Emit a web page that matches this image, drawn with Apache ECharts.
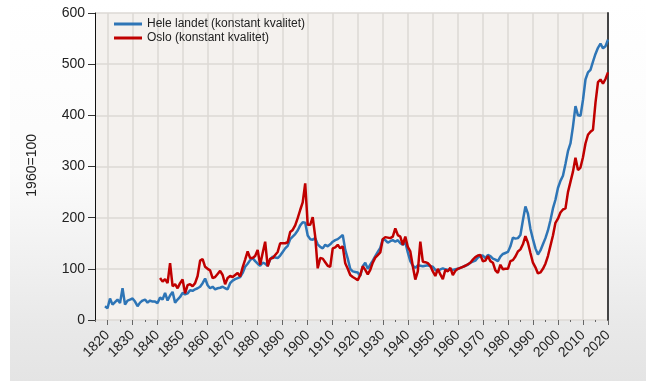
<!DOCTYPE html>
<html><head><meta charset="utf-8">
<script src="https://cdn.jsdelivr.net/npm/echarts@6/dist/echarts.min.js"></script>
<style>html,body{margin:0;padding:0;background:#fff}#c{width:646px;height:381px}</style>
</head><body><div id="c"></div>
<script>
const axisStart = 1815, axisEnd = 2020;
const yTicks = [0, 100, 200, 300, 400, 500, 600];
const seriesNames = ['Hele landet (konstant kvalitet)', 'Oslo (konstant kvalitet)'];
const heleStart = 1819;
const heleLandet = [27,
  23,42,30,35,40,33,62,30,38,40,
  42,36,27,34,38,40,34,38,36,36,
  33,44,40,53,38,48,55,34,40,45,
  53,50,52,58,57,60,62,65,72,81,
  68,62,65,60,62,63,65,62,60,72,
  77,80,82,84,92,104,110,117,121,115,
  110,106,112,110,106,118,124,122,121,126,
  133,140,145,158,163,168,175,185,191,190,
  165,158,157,160,148,143,140,147,144,148,
  153,156,158,162,166,137,120,100,95,94,
  93,86,105,112,100,108,116,125,133,141,
  158,156,151,154,156,153,156,150,147,152,
  132,115,106,102,107,106,105,106,107,105,
  104,98,95,99,101,99,98,98,98,99,
  100,102,104,106,108,112,114,116,122,125,
  126,121,127,125,120,118,115,124,129,131,
  133,144,161,159,160,166,195,222,208,178,
  158,140,128,136,148,160,175,195,218,235,
  258,272,282,305,330,345,378,418,400,399,
  430,470,484,489,505,520,532,540,531,535,
  548];
const osloStart = 1841;
const oslo = [82,75,80,72,111,66,70,62,72,
  79,52,68,70,66,72,86,116,119,104,
  100,97,82,84,90,96,88,70,82,86,
  84,88,92,85,103,118,134,121,121,125,
  137,108,131,153,105,120,121,127,133,150,
  150,150,152,172,176,185,199,215,230,267,
  186,186,201,163,101,121,120,113,106,104,
  140,142,147,140,144,111,100,88,84,81,
  78,88,105,98,89,98,112,122,127,132,
  158,162,161,160,163,179,166,163,147,163,
  143,134,105,79,95,153,114,113,111,106,
  95,86,100,89,80,98,95,102,88,96,
  100,102,104,106,109,112,118,123,126,127,
  115,116,125,115,112,97,92,108,99,100,
  100,115,117,124,134,138,148,164,151,131,
  112,103,91,93,100,110,125,145,165,190,
  198,210,216,218,250,270,290,317,293,298,
  318,345,362,368,372,425,465,470,462,471,
  484];

const years = [];
for (let y = axisStart; y <= axisEnd; y++) years.push(String(y));
const toPairs = (start, vals) => vals.map((v, i) => [start + i - axisStart, v]);

const chart = echarts.init(document.getElementById('c'), null, {renderer: 'canvas'});
const FONT = 'Liberation Sans, Arial, sans-serif';
chart.setOption({
  animation: false,
  backgroundColor: 'transparent',
  graphic: [
    {type: 'rect', z: -10, silent: true, shape: {x: 10, y: 0, width: 636, height: 381},
     style: {fill: new echarts.graphic.LinearGradient(0, 0, 0, 1, [
       {offset: 0, color: '#ffffff'}, {offset: 0.45, color: '#fbfbfb'},
       {offset: 0.85, color: '#e9e9e9'}, {offset: 1, color: '#e4e4e4'}])}},
    {type: 'text', left: 25, top: 134, rotation: Math.PI / 2, silent: true,
     style: {text: '1960=100', font: '14px ' + FONT, fill: '#222'}}
  ],
  grid: {left: 95, right: 38, top: 13, bottom: 61, show: true,
         backgroundColor: '#f4f1ee', borderWidth: 0},
  legend: {
    orient: 'vertical', left: 114, top: 18, padding: 0, itemGap: 2,
    itemWidth: 28, itemHeight: 3, icon: 'rect',
    textStyle: {fontFamily: FONT, fontSize: 12, color: '#222'},
    data: seriesNames
  },
  xAxis: [
    {type: 'category', data: years, boundaryGap: false,
     axisLine: {show: false},
     axisTick: {show: true, length: 5, interval: (i, v) => (+v) % 10 === 0,
                lineStyle: {color: '#666', width: 1}},
     axisLabel: {interval: (i, v) => (+v) % 10 === 0, rotate: 45, margin: 13,
                 fontFamily: FONT, fontSize: 14, color: '#222'},
     splitLine: {show: true, interval: (i, v) => (+v) % 10 === 0,
                 lineStyle: {color: '#dcd8d5', width: 1.5}}},
    {type: 'category', data: years, boundaryGap: false, position: 'bottom',
     axisLine: {show: false},
     axisTick: {show: true, length: 2, interval: (i, v) => (+v) % 5 === 0,
                lineStyle: {color: '#666', width: 1}},
     axisLabel: {show: false}, splitLine: {show: false}}
  ],
  yAxis: [
    {type: 'value', min: yTicks[0], max: yTicks[yTicks.length - 1], interval: 100,
     axisLine: {show: true, lineStyle: {color: '#111', width: 1}},
     axisTick: {show: true, length: 7, lineStyle: {color: '#333'}},
     axisLabel: {margin: 10, fontFamily: FONT, fontSize: 14, color: '#222'},
     splitLine: {show: true, lineStyle: {color: '#dcd8d5', width: 1.5}}},
    {type: 'value', min: 0, max: 600, position: 'right',
     axisLine: {show: true, lineStyle: {color: '#444', width: 2}},
     axisTick: {show: false}, axisLabel: {show: false}, splitLine: {show: false}}
  ],
  series: [
    {name: seriesNames[0], type: 'line', data: toPairs(heleStart, heleLandet),
     showSymbol: false, lineStyle: {color: '#2e75b6', width: 2.5},
     itemStyle: {color: '#2e75b6'}, z: 2},
    {name: seriesNames[1], type: 'line', data: toPairs(osloStart, oslo),
     showSymbol: false, lineStyle: {color: '#c00000', width: 2.5},
     itemStyle: {color: '#c00000'}, z: 3}
  ]
});
</script></body></html>
